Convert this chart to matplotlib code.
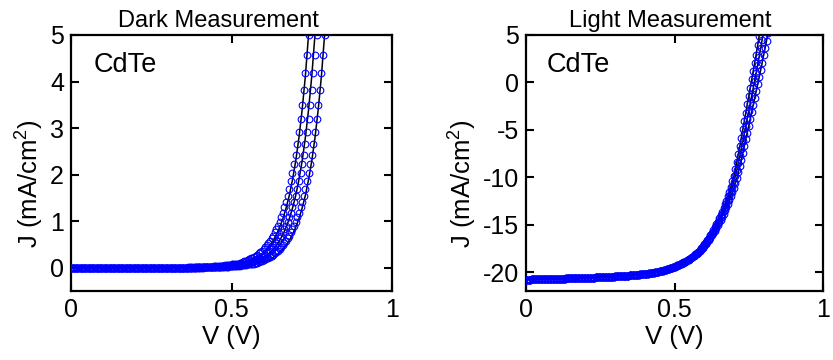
import matplotlib
matplotlib.use("Agg")
import matplotlib.pyplot as plt

plt.rcParams['font.family'] = ['Liberation Sans', 'DejaVu Sans']
plt.rcParams['mathtext.fontset'] = 'custom'
plt.rcParams['mathtext.rm'] = 'Liberation Sans'
plt.rcParams['mathtext.it'] = 'Liberation Sans'
plt.rcParams['axes.unicode_minus'] = False

# --- measured voltage sweep (V), shared by every measured curve ---
V_SWEEP = [
    0.000, 0.005, 0.010, 0.015, 0.020, 0.025, 0.030, 0.035, 0.040, 0.045,
    0.050, 0.055, 0.060, 0.065, 0.070, 0.075, 0.080, 0.085, 0.090, 0.095,
    0.100, 0.105, 0.110, 0.115, 0.120, 0.125, 0.130, 0.135, 0.140, 0.145,
    0.150, 0.155, 0.160, 0.165, 0.170, 0.175, 0.180, 0.185, 0.190, 0.195,
    0.200, 0.205, 0.210, 0.215, 0.220, 0.225, 0.230, 0.235, 0.240, 0.245,
    0.250, 0.255, 0.260, 0.265, 0.270, 0.275, 0.280, 0.285, 0.290, 0.295,
    0.300, 0.305, 0.310, 0.315, 0.320, 0.325, 0.330, 0.335, 0.340, 0.345,
    0.350, 0.355, 0.360, 0.365, 0.370, 0.375, 0.380, 0.385, 0.390, 0.395,
    0.400, 0.405, 0.410, 0.415, 0.420, 0.425, 0.430, 0.435, 0.440, 0.445,
    0.450, 0.455, 0.460, 0.465, 0.470, 0.475, 0.480, 0.485, 0.490, 0.495,
    0.500, 0.505, 0.510, 0.515, 0.520, 0.525, 0.530, 0.535, 0.540, 0.545,
    0.550, 0.555, 0.560, 0.565, 0.570, 0.575, 0.580, 0.585, 0.590, 0.595,
    0.600, 0.605, 0.610, 0.615, 0.620, 0.625, 0.630, 0.635, 0.640, 0.645,
    0.650, 0.655, 0.660, 0.665, 0.670, 0.675, 0.680, 0.685, 0.690, 0.695,
    0.700, 0.705, 0.710, 0.715, 0.720, 0.725, 0.730, 0.735, 0.740, 0.745,
    0.750, 0.755, 0.760, 0.765, 0.770, 0.775, 0.780, 0.785, 0.790, 0.795,
    0.800, 0.805, 0.810, 0.815, 0.820,
]

# --- dark J-V, measured (mA/cm2) ---
DARK_1 = [
    0, 0, 0, 0, 0, 0, 0, 0, 0, 0,
    0, 0, 0, 0, 0, 0, 0, 0, 0, 0,
    0, 0, 0, 0, 0, 0, 0, 0, 0, 0,
    0, 0, 0, 0, 0, 0, 0, 0, 0, 0,
    0, 0, 0, 0, 0, 0, 0, 0, 0, 0,
    0, 0, 0, 0, 0, 0, 0, 0, 0, 0,
    0, 0, 0, 0, 0, 0, 0, 0, 0, 0,
    0, 0, 0, 0.01, 0.01, 0.01, 0.01, 0.01, 0.01, 0.01,
    0.01, 0.01, 0.01, 0.01, 0.01, 0.02, 0.02, 0.02, 0.02, 0.03,
    0.03, 0.03, 0.03, 0.04, 0.04, 0.04, 0.05, 0.05, 0.06, 0.06,
    0.07, 0.07, 0.08, 0.09, 0.09, 0.10, 0.11, 0.12, 0.14, 0.15,
    0.16, 0.18, 0.20, 0.21, 0.23, 0.26, 0.28, 0.31, 0.34, 0.37,
    0.40, 0.44, 0.48, 0.53, 0.58, 0.63, 0.69, 0.76, 0.83, 0.90,
    0.99, 1.08, 1.18, 1.30, 1.42, 1.55, 1.70, 1.86, 2.03, 2.22,
    2.43, 2.66, 2.91, 3.19, 3.49, 3.82, 4.18, 4.57, 5.00, 5.47,
]
DARK_2 = [
    0, 0, 0, 0, 0, 0, 0, 0, 0, 0,
    0, 0, 0, 0, 0, 0, 0, 0, 0, 0,
    0, 0, 0, 0, 0, 0, 0, 0, 0, 0,
    0, 0, 0, 0, 0, 0, 0, 0, 0, 0,
    0, 0, 0, 0, 0, 0, 0, 0, 0, 0,
    0, 0, 0, 0, 0, 0, 0, 0, 0, 0,
    0, 0, 0, 0, 0, 0, 0, 0, 0, 0,
    0, 0, 0, 0, 0, 0, 0, 0, 0.01, 0.01,
    0.01, 0.01, 0.01, 0.01, 0.01, 0.01, 0.01, 0.01, 0.01, 0.01,
    0.02, 0.02, 0.02, 0.02, 0.03, 0.03, 0.03, 0.03, 0.04, 0.04,
    0.04, 0.05, 0.05, 0.06, 0.06, 0.07, 0.07, 0.08, 0.09, 0.09,
    0.10, 0.11, 0.12, 0.14, 0.15, 0.16, 0.18, 0.20, 0.21, 0.23,
    0.26, 0.28, 0.31, 0.34, 0.37, 0.40, 0.44, 0.48, 0.53, 0.58,
    0.63, 0.69, 0.76, 0.83, 0.90, 0.99, 1.08, 1.18, 1.30, 1.42,
    1.55, 1.70, 1.86, 2.03, 2.22, 2.43, 2.66, 2.91, 3.19, 3.49,
    3.82, 4.18, 4.57, 5.00, 5.47,
]
DARK_3 = [
    0, 0, 0, 0, 0, 0, 0, 0, 0, 0,
    0, 0, 0, 0, 0, 0, 0, 0, 0, 0,
    0, 0, 0, 0, 0, 0, 0, 0, 0, 0,
    0, 0, 0, 0, 0, 0, 0, 0, 0, 0,
    0, 0, 0, 0, 0, 0, 0, 0, 0, 0,
    0, 0, 0, 0, 0, 0, 0, 0, 0, 0,
    0, 0, 0, 0, 0, 0, 0, 0, 0, 0,
    0, 0, 0, 0, 0, 0, 0, 0, 0, 0,
    0, 0, 0, 0.01, 0.01, 0.01, 0.01, 0.01, 0.01, 0.01,
    0.01, 0.01, 0.01, 0.01, 0.01, 0.02, 0.02, 0.02, 0.02, 0.03,
    0.03, 0.03, 0.03, 0.04, 0.04, 0.04, 0.05, 0.05, 0.06, 0.06,
    0.07, 0.07, 0.08, 0.09, 0.09, 0.10, 0.11, 0.12, 0.14, 0.15,
    0.16, 0.18, 0.20, 0.21, 0.23, 0.26, 0.28, 0.31, 0.34, 0.37,
    0.40, 0.44, 0.48, 0.53, 0.58, 0.63, 0.69, 0.76, 0.83, 0.90,
    0.99, 1.08, 1.18, 1.30, 1.42, 1.55, 1.70, 1.86, 2.03, 2.22,
    2.43, 2.66, 2.91, 3.19, 3.49, 3.82, 4.18, 4.57, 5.00, 5.47,
]

# --- dark fits ---
DARK_FIT_V = [
    0.00, 0.40, 0.41, 0.42, 0.43, 0.44, 0.45, 0.46, 0.47, 0.48, 0.49,
    0.50, 0.51, 0.52, 0.53, 0.54, 0.55, 0.56, 0.57, 0.58, 0.59,
    0.60, 0.61, 0.62, 0.63, 0.64, 0.65, 0.66, 0.67, 0.68, 0.69,
    0.70, 0.71, 0.72, 0.73, 0.74, 0.75, 0.76, 0.77, 0.78, 0.79, 0.80,
]
DARK_FIT_1 = [
    0.00, 0.01, 0.01, 0.01, 0.01, 0.01, 0.02, 0.02, 0.03, 0.03, 0.04,
    0.05, 0.06, 0.07, 0.08, 0.10, 0.12, 0.15, 0.18, 0.22, 0.27,
    0.33, 0.40, 0.48, 0.59, 0.71, 0.87, 1.05, 1.28, 1.55, 1.89,
    2.29, 2.79, 3.39, 4.11, 5.00, 6.08,
]
DARK_FIT_2 = [
    0.00, 0.01, 0.01, 0.01, 0.01, 0.01, 0.01, 0.01, 0.02, 0.02, 0.03,
    0.03, 0.04, 0.05, 0.06, 0.07, 0.08, 0.10, 0.12, 0.15, 0.18,
    0.22, 0.27, 0.33, 0.40, 0.48, 0.59, 0.71, 0.87, 1.05, 1.28,
    1.55, 1.89, 2.29, 2.79, 3.39, 4.11, 5.00, 6.08,
]
DARK_FIT_3 = [
    0.00, 0.01, 0.01, 0.01, 0.01, 0.01, 0.01, 0.01, 0.01, 0.01, 0.01,
    0.02, 0.02, 0.03, 0.03, 0.04, 0.05, 0.06, 0.07, 0.08, 0.10,
    0.12, 0.15, 0.18, 0.22, 0.27, 0.33, 0.40, 0.48, 0.59, 0.71,
    0.87, 1.05, 1.28, 1.55, 1.89, 2.29, 2.79, 3.39, 4.11, 5.00, 6.08,
]

# --- light J-V, measured (mA/cm2) ---
LIGHT_1 = [
    -20.80, -20.80, -20.79, -20.79, -20.78, -20.78, -20.78, -20.77, -20.77, -20.76,
    -20.76, -20.76, -20.75, -20.75, -20.74, -20.74, -20.74, -20.73, -20.73, -20.72,
    -20.72, -20.71, -20.71, -20.70, -20.70, -20.69, -20.69, -20.68, -20.68, -20.67,
    -20.67, -20.66, -20.66, -20.65, -20.65, -20.64, -20.64, -20.63, -20.63, -20.62,
    -20.62, -20.61, -20.60, -20.60, -20.59, -20.58, -20.58, -20.57, -20.56, -20.56,
    -20.55, -20.54, -20.53, -20.53, -20.52, -20.51, -20.50, -20.50, -20.49, -20.48,
    -20.47, -20.46, -20.45, -20.44, -20.43, -20.42, -20.41, -20.40, -20.39, -20.38,
    -20.36, -20.35, -20.33, -20.32, -20.30, -20.28, -20.27, -20.25, -20.24, -20.22,
    -20.20, -20.18, -20.16, -20.13, -20.11, -20.08, -20.05, -20.02, -19.99, -19.96,
    -19.93, -19.89, -19.85, -19.81, -19.76, -19.71, -19.66, -19.61, -19.55, -19.50,
    -19.44, -19.37, -19.30, -19.22, -19.14, -19.06, -18.98, -18.89, -18.81, -18.72,
    -18.62, -18.51, -18.40, -18.27, -18.14, -18.00, -17.85, -17.68, -17.50, -17.30,
    -17.07, -16.85, -16.62, -16.38, -16.13, -15.87, -15.58, -15.29, -14.98, -14.67,
    -14.34, -14.00, -13.63, -13.26, -12.87, -12.46, -12.00, -11.51, -10.99, -10.45,
    -9.87, -9.16, -8.39, -7.56, -6.71, -5.82, -4.96, -4.08, -3.21, -2.33,
    -1.45, -0.57, 0.31, 1.19, 2.06, 2.94, 3.90, 4.88, 5.88,
]
LIGHT_2 = [
    -20.80, -20.80, -20.79, -20.79, -20.78, -20.78, -20.78, -20.77, -20.77, -20.76,
    -20.76, -20.76, -20.75, -20.75, -20.74, -20.74, -20.74, -20.73, -20.73, -20.72,
    -20.72, -20.71, -20.71, -20.70, -20.70, -20.69, -20.69, -20.68, -20.68, -20.67,
    -20.67, -20.66, -20.66, -20.65, -20.65, -20.64, -20.64, -20.63, -20.63, -20.62,
    -20.62, -20.61, -20.60, -20.60, -20.59, -20.58, -20.58, -20.57, -20.56, -20.56,
    -20.55, -20.54, -20.53, -20.53, -20.52, -20.51, -20.50, -20.50, -20.49, -20.48,
    -20.47, -20.46, -20.45, -20.44, -20.43, -20.42, -20.41, -20.40, -20.39, -20.38,
    -20.36, -20.35, -20.33, -20.32, -20.30, -20.28, -20.27, -20.25, -20.24, -20.22,
    -20.20, -20.18, -20.16, -20.13, -20.11, -20.08, -20.05, -20.02, -19.99, -19.96,
    -19.93, -19.89, -19.85, -19.81, -19.76, -19.71, -19.66, -19.61, -19.55, -19.50,
    -19.45, -19.38, -19.31, -19.24, -19.16, -19.08, -19.00, -18.92, -18.84, -18.75,
    -18.65, -18.54, -18.43, -18.31, -18.18, -18.04, -17.90, -17.74, -17.57, -17.37,
    -17.15, -16.94, -16.72, -16.49, -16.25, -16.00, -15.73, -15.45, -15.16, -14.86,
    -14.55, -14.23, -13.89, -13.54, -13.18, -12.80, -12.39, -11.96, -11.50, -11.02,
    -10.50, -9.90, -9.24, -8.52, -7.78, -7.00, -6.21, -5.41, -4.61, -3.81,
    -3.00, -2.20, -1.40, -0.60, 0.20, 1.00, 1.84, 2.70, 3.58, 4.48,
    5.40,
]
LIGHT_3 = [
    -20.80, -20.80, -20.79, -20.79, -20.78, -20.78, -20.78, -20.77, -20.77, -20.76,
    -20.76, -20.76, -20.75, -20.75, -20.74, -20.74, -20.74, -20.73, -20.73, -20.72,
    -20.72, -20.71, -20.71, -20.70, -20.70, -20.69, -20.69, -20.68, -20.68, -20.67,
    -20.67, -20.66, -20.66, -20.65, -20.65, -20.64, -20.64, -20.63, -20.63, -20.62,
    -20.62, -20.61, -20.60, -20.60, -20.59, -20.58, -20.58, -20.57, -20.56, -20.56,
    -20.55, -20.54, -20.53, -20.53, -20.52, -20.51, -20.50, -20.50, -20.49, -20.48,
    -20.47, -20.46, -20.45, -20.44, -20.43, -20.42, -20.41, -20.40, -20.39, -20.38,
    -20.36, -20.35, -20.33, -20.32, -20.30, -20.28, -20.27, -20.25, -20.24, -20.22,
    -20.20, -20.18, -20.16, -20.13, -20.11, -20.08, -20.05, -20.02, -19.99, -19.96,
    -19.93, -19.89, -19.85, -19.81, -19.76, -19.71, -19.66, -19.61, -19.55, -19.50,
    -19.46, -19.39, -19.32, -19.26, -19.18, -19.10, -19.02, -18.95, -18.87, -18.78,
    -18.68, -18.57, -18.46, -18.35, -18.22, -18.08, -17.95, -17.80, -17.64, -17.45,
    -17.24, -17.04, -16.83, -16.61, -16.38, -16.14, -15.88, -15.62, -15.34, -15.06,
    -14.76, -14.47, -14.15, -13.83, -13.49, -13.14, -12.78, -12.41, -12.01, -11.59,
    -11.13, -10.64, -10.09, -9.48, -8.85, -8.18, -7.46, -6.74, -6.01, -5.29,
    -4.55, -3.83, -3.11, -2.39, -1.66, -0.94, -0.22, 0.52, 1.28, 2.05,
    2.84, 3.62, 4.41, 5.20,
]

# --- light fits ---
LIGHT_FIT_V = [
    0.00, 0.10, 0.20, 0.30, 0.35, 0.40, 0.45, 0.50, 0.52, 0.54, 0.56, 0.58,
    0.60, 0.61, 0.62, 0.63, 0.64, 0.65, 0.66, 0.67, 0.68, 0.69,
    0.70, 0.71, 0.72, 0.73, 0.74, 0.75, 0.76, 0.77, 0.78, 0.79,
    0.80, 0.81, 0.82,
]
LIGHT_FIT_1 = [
    -20.80, -20.72, -20.62, -20.47, -20.36, -20.20, -19.93, -19.44, -19.14, -18.82, -18.40, -17.85,
    -17.07, -16.62, -16.13, -15.58, -14.98, -14.34, -13.63, -12.87, -12.00, -10.99,
    -9.87, -8.39, -6.71, -4.96, -3.21, -1.45, 0.31, 2.06, 3.90, 5.88,
]
LIGHT_FIT_2 = [
    -20.80, -20.72, -20.62, -20.47, -20.36, -20.20, -19.93, -19.45, -19.16, -18.84, -18.43, -17.90,
    -17.15, -16.72, -16.25, -15.73, -15.16, -14.55, -13.89, -13.18, -12.39, -11.50,
    -10.50, -9.24, -7.78, -6.21, -4.61, -3.00, -1.40, 0.20, 1.84, 3.58,
    5.40,
]
LIGHT_FIT_3 = [
    -20.80, -20.72, -20.62, -20.47, -20.36, -20.20, -19.93, -19.46, -19.18, -18.87, -18.46, -17.95,
    -17.24, -16.83, -16.38, -15.88, -15.34, -14.76, -14.15, -13.49, -12.78, -12.01,
    -11.13, -10.09, -8.85, -7.46, -6.01, -4.55, -3.11, -1.66, -0.22, 1.28,
    2.84, 4.41, 6.00,
]


def draw_panel(ax, fit_v, fits, meas, title, title_x, ylim, yticks):
    # fits first, open circles on top (as in the MATLAB export)
    for jf in fits:
        ax.plot(fit_v[:len(jf)], jf, color='black', lw=1.1, zorder=2)
    for jm in meas:
        ax.plot(V_SWEEP[:len(jm)], jm, ls='none', marker='o', mfc='none',
                mec=(0, 0, 1), ms=4.8, mew=0.8, zorder=3)
    ax.set_xlim(0, 1)
    ax.set_ylim(*ylim)
    ax.set_xticks([0, 0.5, 1])
    ax.set_xticklabels(['0', '0.5', '1'])
    ax.set_yticks(yticks)
    ax.tick_params(direction='in', length=6, width=1.5, labelsize=18,
                   top=True, right=True, pad=5)
    for sp in ax.spines.values():
        sp.set_linewidth(1.6)
    ax.set_title(title, fontsize=17, pad=6, x=title_x)
    ax.set_xlabel('V (V)', fontsize=18.5, labelpad=2)
    ax.set_ylabel('J (mA/cm$^2$)', fontsize=18.5, labelpad=3)
    ax.yaxis.label.set_y(0.42)
    ax.text(0.07, 0.857, 'CdTe', transform=ax.transAxes, fontsize=19.5,
            va='baseline', ha='left')


fig = plt.figure(figsize=(8.33, 3.6), dpi=100)
ax_dark = fig.add_axes([71 / 833, 69 / 360, 321 / 833, 256 / 360])
ax_light = fig.add_axes([526 / 833, 69 / 360, 297 / 833, 256 / 360])

draw_panel(ax_dark, DARK_FIT_V, [DARK_FIT_1, DARK_FIT_2, DARK_FIT_3],
           [DARK_1, DARK_2, DARK_3], 'Dark Measurement', 0.46, (-0.5, 5),
           [0, 1, 2, 3, 4, 5])
draw_panel(ax_light, LIGHT_FIT_V, [LIGHT_FIT_1, LIGHT_FIT_2, LIGHT_FIT_3],
           [LIGHT_1, LIGHT_2, LIGHT_3], 'Light Measurement', 0.485, (-22, 5),
           [-20, -15, -10, -5, 0, 5])

fig.savefig('out.png', dpi=100)
